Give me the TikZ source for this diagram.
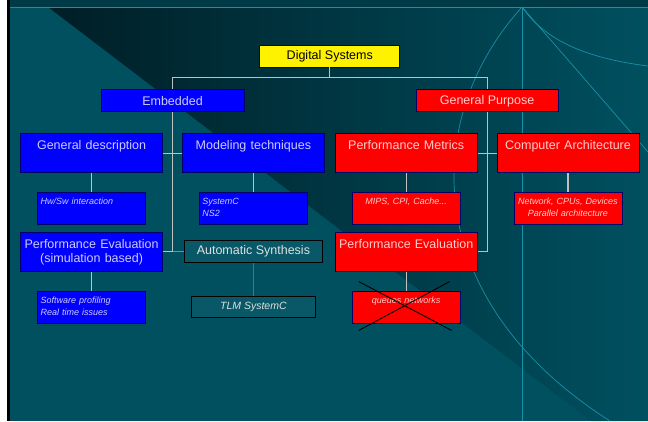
\documentclass[tikz,border=0pt]{standalone}
\usepackage{fontspec}
\setmainfont{Liberation Sans}
\usetikzlibrary{calc,chains,matrix,positioning,scopes}
\definecolor{slide}{RGB}{0,80,96}
\definecolor{slidetop}{RGB}{0,58,70}
\definecolor{wedge}{RGB}{0,30,38}
\definecolor{raycol}{RGB}{24,144,168}
\definecolor{navy}{RGB}{0,0,102}
\definecolor{bluetext}{RGB}{204,204,255}
\definecolor{redtext}{RGB}{255,204,204}
\definecolor{synfill}{RGB}{8,88,104}
\definecolor{syntext}{RGB}{224,224,224}
\definecolor{wire}{RGB}{192,192,192}
\definecolor{orangewire}{RGB}{255,102,0}
\definecolor{brownwire}{RGB}{160,90,44}
\tikzset{
  box/.style={draw=navy, line width=0.8pt, inner xsep=4pt, inner ysep=3pt},
  bigfont/.style={font=\fontsize{12.5}{14}\selectfont},
  smallfont/.style={font=\fontsize{9}{12}\selectfont\itshape},
  topbox/.style={box, bigfont, minimum height=22pt},
  topblue/.style={topbox, fill=blue, text=bluetext, minimum width=143pt},
  topred/.style={topbox, fill=red, text=redtext, minimum width=142pt},
  topyellow/.style={topbox, fill=yellow, text=black, minimum width=140pt},
  bigbox/.style={box, bigfont, inner xsep=1pt, text width=140pt, align=center,
    text height=13pt, text depth=20pt},
  bigblue/.style={bigbox, fill=blue, text=bluetext},
  bigred/.style={bigbox, fill=red, text=redtext},
  smallbox/.style={box, smallfont, inner xsep=3pt, text width=102pt,
    text height=9pt, text depth=17pt},
  smallblue/.style={smallbox, fill=blue, text=bluetext, align=left},
  smallred/.style={smallbox, fill=red, text=redtext, align=center},
  synbox/.style={draw=black, line width=0.8pt, fill=synfill, text=syntext,
    bigfont, minimum width=138pt, minimum height=22pt},
  tlmbox/.style={draw=black, line width=0.8pt, fill=synfill, text=syntext,
    font=\fontsize{10.5}{12}\selectfont\itshape, minimum width=124pt, minimum height=21pt},
  link/.style={draw=wire, line width=1.1pt},
  synlink/.style={draw=orangewire, line width=1.1pt},
  synvert/.style={draw=brownwire, line width=1.1pt},
  cross/.style={draw=black, line width=0.9pt},
  ray/.style={draw=raycol, line width=0.7pt},
  every join/.style={link}
}
\begin{document}
\begin{tikzpicture}[x=1pt, y=-1pt]
  % slide background
  \useasboundingbox (0,0) rectangle (648,421);
  \fill[white] (0,0) rectangle (7,421);
  \fill[black] (7,0) rectangle (10,421);
  \fill[slide] (10,7) rectangle (648,421);
  \fill[slidetop] (10,0) rectangle (648,7);
  \shade[left color=wedge, right color=slide] (48,7) -- (648,7) -- (648,421) -- (591,421) -- cycle;
  \draw[ray] (522,7) -- (522,421);
  \draw[ray] (522,7) .. controls (420,120) and (420,300) .. (610,421);
  \draw[ray] (522,7) .. controls (545,40) and (585,58) .. (648,66);
  \draw[ray] (522,7) -- (648,152);
  \draw[draw=raycol, line width=1pt] (10,7) -- (648,7);

  \matrix (m) [matrix of nodes, anchor=north west, inner sep=0pt,
               nodes={anchor=center}, column sep=10pt, row sep=7pt] at (20,133)
    {
      |[bigblue]| General description &[9pt]
      |[bigblue]| Modeling techniques &
      |[bigred]| Performance Metrics &[9pt]
      |[bigred]| Computer Architecture \\[12pt]
      |[smallblue]| Hw/Sw interaction &
      |[smallblue]| {SystemC\\NS2} &
      |[smallred]| MIPS, CPI, Cache... &
      |[smallred]| {Network, CPUs, Devices\\Parallel architecture} \\
      |[bigblue]| {Performance Evaluation\\(simulation based)} &
      |[synbox]| Automatic Synthesis &
      |[bigred]| Performance Evaluation \\[12pt]
      |[smallblue]| {Software profiling\\Real time issues} &
      |[tlmbox]| TLM SystemC &
      |[smallred]| queues networks \\
    };
  \coordinate (embtop) at ($(m-1-1.north east)!.5!(m-1-2.north west)$);
  \coordinate (gptop) at ($(m-1-3.north east)!.5!(m-1-4.north west)$);
  \node[topblue, above=21pt of embtop] (emb) {Embedded};
  \node[topred, above=21pt of gptop] (gp) {General Purpose};
  \coordinate (dstop) at ($(emb.north)!.5!(gp.north)$);
  \node[topyellow, above=22pt of dstop] (ds) {Digital Systems};

  % tree
  \draw[link] (ds.south) -- ++(0,10) -| (emb.north);
  \draw[link] (ds.south) -- ++(0,10) -| (gp.north);
  \coordinate (embjoin) at (emb.south |- m-3-1.east);
  \coordinate (gpjoin) at (gp.south |- m-3-3.east);
  \draw[link] (emb.south) -- (embjoin) -- (m-3-1.east);
  \draw[link] (m-1-1.east) -- (m-1-2.west);
  \draw[synlink] (embjoin) -- (m-3-2.west);
  \draw[link] (gp.south) -- (gpjoin) -- (m-3-3.east);
  \draw[link] (m-1-3.east) -- (m-1-4.west);

  { [start chain] \chainin (m-1-1); \chainin (m-2-1) [join]; }
  { [start chain] \chainin (m-3-1); \chainin (m-4-1) [join]; }
  { [start chain] \chainin (m-1-2); \chainin (m-2-2) [join]; }
  { [start chain] \chainin (m-3-2); \chainin (m-4-2) [join=by synvert]; }
  { [start chain] \chainin (m-1-3); \chainin (m-2-3) [join]; }
  { [start chain] \chainin (m-3-3); \chainin (m-4-3) [join]; }
  { [start chain] \chainin (m-1-4); \chainin (m-2-4) [join]; }

  % crossed out
  \draw[cross] ([xshift=7pt,yshift=9pt]m-4-3.north west) -- ([xshift=-9pt,yshift=-7pt]m-4-3.south east);
  \draw[cross] ([xshift=-11pt,yshift=9pt]m-4-3.north east) -- ([xshift=7pt,yshift=-7pt]m-4-3.south west);
\end{tikzpicture}
\end{document}
